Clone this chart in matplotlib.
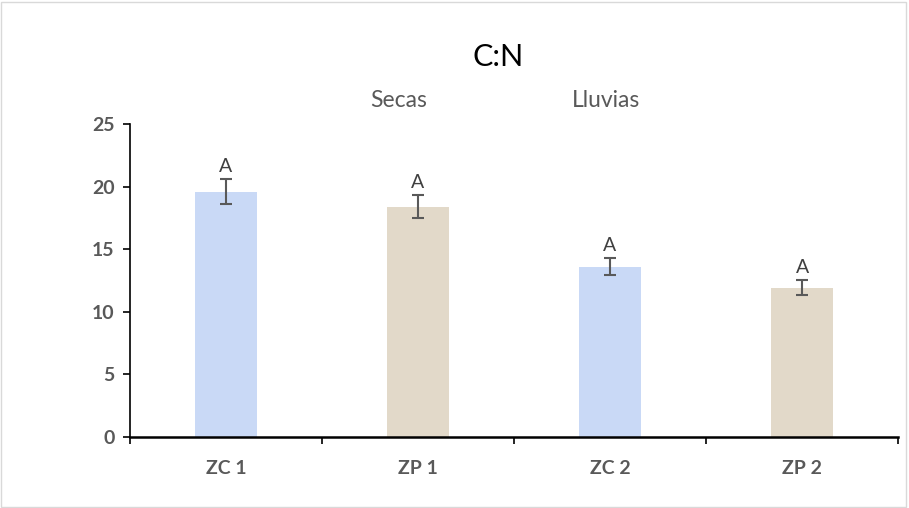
import matplotlib.pyplot as plt
import numpy as np
from matplotlib.patches import Rectangle

plt.rcParams['font.family'] = ['Lato', 'DejaVu Sans']

categories = ['ZC 1', 'ZP 1', 'ZC 2', 'ZP 2']
values = [19.6, 18.4, 13.6, 11.9]
errors = [1.0, 0.9, 0.7, 0.6]
letters = ['A', 'A', 'A', 'A']
bar_colors = ['#c9d9f6', '#e2d9c9', '#c9d9f6', '#e2d9c9']

fig = plt.figure(figsize=(9.09, 5.08), dpi=100)
ax = fig.add_axes([0.143, 0.140, 0.845, 0.616])

x = np.arange(len(categories))
ax.bar(x, values, width=0.32, color=bar_colors, zorder=2)
ax.errorbar(x, values, yerr=errors, fmt='none', ecolor='#595959',
            elinewidth=1.5, capsize=4.5, capthick=1.5, zorder=3)

for xi, v, e, t in zip(x, values, errors, letters):
    ax.annotate(t, (xi, v + e), xytext=(0, 3), textcoords='offset points',
                ha='center', va='bottom', fontsize=14, color='#404040')

ax.set_xlim(-0.5, 3.5)
ax.set_ylim(0, 25)
ax.set_yticks([0, 5, 10, 15, 20, 25])
ax.tick_params(axis='y', direction='out', length=5, width=1.2, pad=6,
               labelsize=14, labelcolor='#595959')
for lab in ax.get_yticklabels():
    lab.set_fontweight('bold')

ax.set_xticks([-0.5, 0.5, 1.5, 2.5, 3.5])
ax.set_xticklabels([])
ax.tick_params(axis='x', which='major', direction='out', length=5, width=1.2)
ax.set_xticks(x, minor=True)
ax.set_xticklabels(categories, minor=True, fontsize=14, fontweight='bold',
                   color='#595959')
ax.tick_params(axis='x', which='minor', length=0, pad=17)

for s in ['top', 'right']:
    ax.spines[s].set_visible(False)
ax.spines['left'].set_linewidth(1.2)
ax.spines['bottom'].set_linewidth(1.8)

fig.text(0.548, 0.888, 'C:N', ha='center', va='center', fontsize=22, color='black')
fig.text(0.438, 0.803, 'Secas', ha='center', va='center', fontsize=16.5, color='#595959')
fig.text(0.667, 0.803, 'Lluvias', ha='center', va='center', fontsize=16.5, color='#595959')

fig.add_artist(Rectangle((0.001, 0.002), 0.996, 0.995, transform=fig.transFigure,
                         fill=False, edgecolor='#d9d9d9', linewidth=1))

fig.savefig('out.png', dpi=100)
